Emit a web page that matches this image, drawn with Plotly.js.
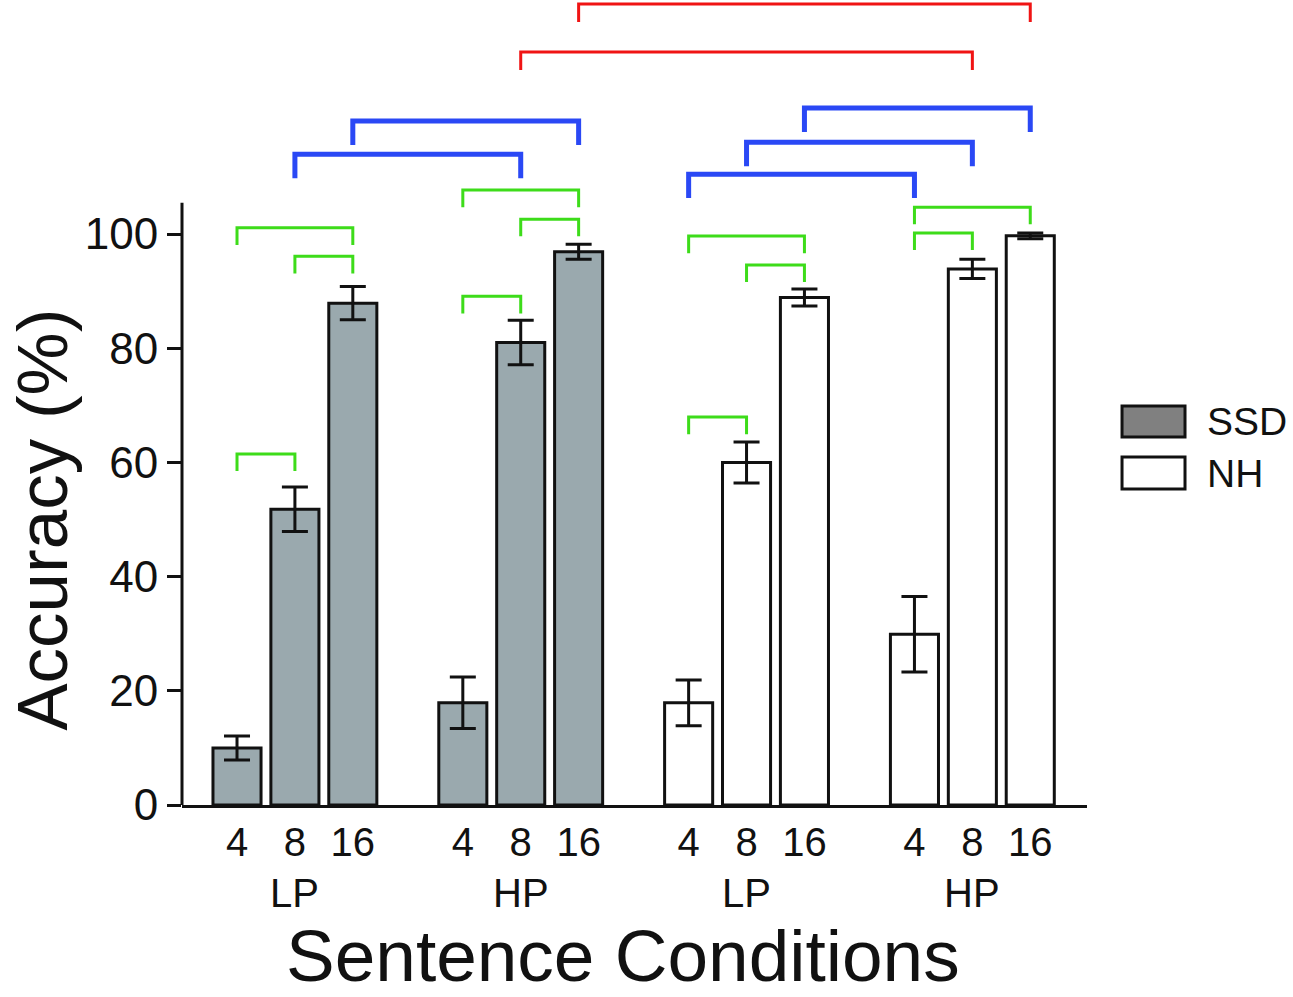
<!DOCTYPE html>
<html>
<head>
<meta charset="utf-8">
<script src="https://cdn.plot.ly/plotly-3.0.1.min.js"></script>
<style>
  html, body { margin: 0; padding: 0; background: #fff; }
  #chart { width: 1293px; height: 997px; }
</style>
</head>
<body>
<div id="chart"></div>
<script>
// bar accuracy chart with significance brackets

const groupNames = ['LP', 'HP', 'LP', 'HP'];
const channelLabels = ['4', '8', '16'];

// SSD = first two groups, NH = last two groups
const ssdMean = [10, 51.8, 87.9, 17.9, 81, 96.9];
const ssdErr  = [2.1, 3.9, 2.9, 4.5, 3.9, 1.3];
const nhMean  = [17.9, 60, 88.9, 29.9, 93.9, 99.7];
const nhErr   = [4, 3.6, 1.5, 6.6, 1.7, 0.5];

// brackets: bar index 0..11 (left to right), level in %
const greenFrom  = [0, 1, 0, 3, 4, 3, 6, 7, 6, 9, 9];
const greenTo    = [2, 2, 1, 5, 5, 4, 8, 8, 7, 11, 10];
const greenLevel = [101.1, 96.1, 61.5, 107.7, 102.6, 89.1, 99.65, 94.6, 67.95, 104.7, 100.2];

const blueFrom  = [2, 1, 8, 7, 6];
const blueTo    = [5, 4, 11, 10, 9];
const blueLevel = [119.8, 114.0, 122.1, 116.1, 110.5];

const redFrom  = [5, 4];
const redTo    = [11, 10];
const redLevel = [140.3, 131.9];

const GROUP_STEP = 3.9;
const FONT = 'Liberation Sans, Arial, sans-serif';

function barX(i) {
  return Math.floor(i / 3) * GROUP_STEP + (i % 3);
}

const allX = [];
for (let i = 0; i < 12; i++) allX.push(barX(i));
const ssdX = allX.slice(0, 6);
const nhX = allX.slice(6);

function barTrace(name, xs, ys, errs, fill) {
  return {
    type: 'bar', name: name, x: xs, y: ys, width: 0.83,
    marker: { color: fill, line: { color: '#111', width: 3 } },
    error_y: { type: 'data', array: errs, visible: true, color: '#111', thickness: 3, width: 13 },
    showlegend: false, hoverinfo: 'skip'
  };
}

function bracketTraces(from, to, level, color, drop, lw) {
  return from.map((a, k) => {
    const x0 = barX(a), x1 = barX(to[k]), y = level[k];
    return {
      type: 'scatter', mode: 'lines',
      x: [x0, x0, x1, x1], y: [y - drop, y, y, y - drop],
      line: { color: color, width: lw, shape: 'linear' },
      cliponaxis: false, showlegend: false, hoverinfo: 'skip'
    };
  });
}

const traces = [
  barTrace('SSD', ssdX, ssdMean, ssdErr, '#9aa9ae'),
  barTrace('NH', nhX, nhMean, nhErr, '#ffffff'),
  ...bracketTraces(greenFrom, greenTo, greenLevel, '#3ddc1a', 3.0, 3),
  ...bracketTraces(blueFrom, blueTo, blueLevel, '#2a48f5', 4.2, 5),
  ...bracketTraces(redFrom, redTo, redLevel, '#f01414', 3.15, 3)
];

const tickText = allX.map((_, i) => channelLabels[i % 3]);

const annotations = groupNames.map((g, k) => ({
  text: g, x: k * GROUP_STEP + 1, xref: 'x', y: -0.109, yref: 'paper',
  xanchor: 'center', yanchor: 'middle', showarrow: false,
  font: { family: FONT, size: 40, color: '#111' }
}));

annotations.push({
  text: 'Accuracy (%)', textangle: -90, x: -0.155, xref: 'paper', y: 0.354, yref: 'paper',
  xanchor: 'center', yanchor: 'middle', showarrow: false,
  font: { family: FONT, size: 71, color: '#111' }
});
annotations.push({
  text: 'Sentence Conditions', x: 0.487, xref: 'paper', y: 0, yref: 'paper', yshift: -150,
  xanchor: 'center', yanchor: 'middle', showarrow: false,
  font: { family: FONT, size: 73, color: '#111' }
});
annotations.push({
  text: 'SSD', x: 1.1304, xref: 'paper', y: 0.477, yref: 'paper',
  xanchor: 'left', yanchor: 'middle', showarrow: false,
  font: { family: FONT, size: 39, color: '#111' }
});
annotations.push({
  text: 'NH', x: 1.1304, xref: 'paper', y: 0.4124, yref: 'paper',
  xanchor: 'left', yanchor: 'middle', showarrow: false,
  font: { family: FONT, size: 39, color: '#111' }
});

const shapes = [
  // y axis line only up to ~105
  { type: 'line', xref: 'paper', x0: 0, x1: 0, yref: 'y', y0: 0, y1: 105.5,
    line: { color: '#111', width: 3 } },
  // legend boxes
  { type: 'rect', xref: 'paper', yref: 'paper', x0: 1.0387, x1: 1.1083, y0: 0.4571, y1: 0.4957,
    fillcolor: '#808080', line: { color: '#111', width: 3 } },
  { type: 'rect', xref: 'paper', yref: 'paper', x0: 1.0387, x1: 1.1083, y0: 0.3925, y1: 0.4323,
    fillcolor: '#ffffff', line: { color: '#111', width: 3 } }
];

const layout = {
  width: 1293, height: 997,
  margin: { l: 182, r: 206, t: 0, b: 192 },
  paper_bgcolor: 'white', plot_bgcolor: 'white',
  font: { family: FONT, color: '#111' },
  barmode: 'overlay',
  hovermode: false,
  xaxis: {
    range: [-0.95, 14.68], tickvals: allX, ticktext: tickText,
    showgrid: false, zeroline: false, showline: true, linecolor: '#111', linewidth: 3,
    ticks: '', tickfont: { family: FONT, size: 40, color: '#111' },
    fixedrange: true
  },
  yaxis: {
    range: [0, 141], tickvals: [0, 20, 40, 60, 80, 100],
    showgrid: false, zeroline: false, showline: false,
    ticks: 'outside', ticklen: 14, tickwidth: 3, tickcolor: '#111',
    tickfont: { family: FONT, size: 44, color: '#111' },
    fixedrange: true
  },
  shapes: shapes,
  annotations: annotations
};

Plotly.newPlot('chart', traces, layout, { displayModeBar: false, staticPlot: true });
</script>
</body>
</html>
